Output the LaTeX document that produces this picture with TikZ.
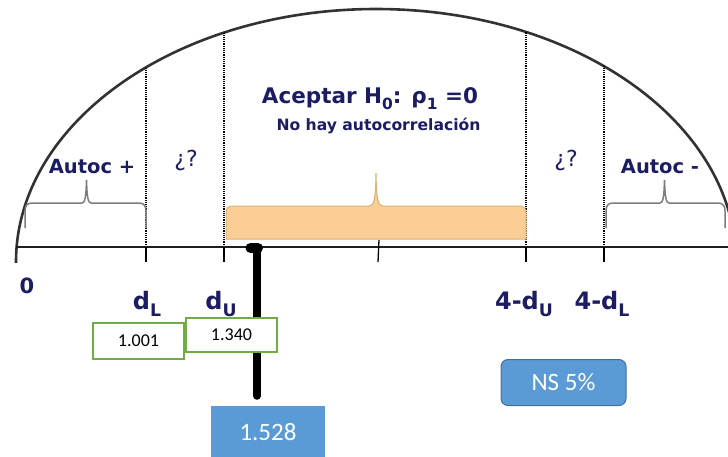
\documentclass[tikz,border=0pt]{standalone}
\usepackage{fontspec}
\setmainfont{DejaVu Sans}[BoldFont={DejaVu Sans Bold}]
\newfontfamily\numfont{Carlito}
\definecolor{navy}{RGB}{28,28,98}
\definecolor{braceg}{RGB}{125,125,125}
\definecolor{orfill}{RGB}{250,206,148}
\definecolor{ordraw}{RGB}{220,178,120}
\definecolor{boxgreen}{RGB}{112,173,71}
\definecolor{boxblue}{RGB}{91,155,213}
\definecolor{boxblueedge}{RGB}{65,113,156}
\newcommand\lsub[1]{\raisebox{-0.3em}{\scalebox{0.72}{#1}}}
\begin{document}
\begin{tikzpicture}[x=1pt,y=-1pt,
  dome/.style={draw={rgb,255:red,50;green,50;blue,50},line width=2.6pt},
  dotline/.style={draw=black,line width=1.2pt,densely dotted},
  tickline/.style={draw=black,line width=1.3pt},
  axisline/.style={draw={rgb,255:red,30;green,30;blue,30},line width=1.6pt},
  bracepath/.style={draw=braceg,line width=1.5pt},
  lbl/.style={text=navy,inner sep=0pt,anchor=base,font=\fontsize{19.5}{20}\selectfont\bfseries},
  qlbl/.style={text=navy,inner sep=0pt,anchor=base,font=\fontsize{22}{22}\selectfont},
  axlbl/.style={text=navy,inner sep=0pt,anchor=base,font=\fontsize{24}{24}\selectfont\bfseries},
  valbox/.style={draw=boxgreen,line width=1.6pt,fill=white,font=\numfont\fontsize{18}{18}\selectfont,text=black,inner sep=0pt},
  bluebox/.style={fill=boxblue,text=white,font=\numfont\fontsize{25}{25}\selectfont,inner sep=0pt},
  marker/.style={draw=black,line width=7.5pt,line cap=round}
]
\useasboundingbox (0,0) rectangle (728,456);
\clip (0,0) rectangle (728,456);

% dome
\begin{scope}
  \clip (0,0) rectangle (728,262.5);
  \draw[dome] (376,262) ellipse [x radius=360pt, y radius=253pt];
\end{scope}

% axis points
\coordinate (b0) at (16,247);
\coordinate (bend) at (730,247);
\coordinate (pdL) at (146,247);
\coordinate (pdU) at (224,247);
\coordinate (pmid) at (378.5,247);
\coordinate (p4dU) at (526,247);
\coordinate (p4dL) at (604,247);

% dotted vertical lines inside the dome
\begin{scope}
  \clip (376,262) ellipse [x radius=360pt, y radius=253pt];
  \foreach \p in {pdL,pdU,p4dU,p4dL}
    \draw[dotline] (\p) -- ++(0,-250);
\end{scope}

% orange acceptance brace
\draw[fill=orfill,draw=ordraw,line width=1pt]
  (226,239) -- (226,213) .. controls (226,208) and (228,206) .. (233,206)
  -- (369,206) .. controls (374,206) and (375.5,200) .. (376,173)
  .. controls (376.5,200) and (378,206) .. (383,206)
  -- (519,206) .. controls (524,206) and (526,208) .. (526,213)
  -- (526,239) -- cycle;

% axis
\draw[axisline] (b0) -- (bend);
\foreach \p in {pdL,pdU,p4dU,p4dL}
  \draw[tickline] (\p) -- ++(0,15);
\draw[tickline] (pmid) ++(0.5,-7) -- ++(-1,22);

% gray braces
\draw[bracepath] (25,228) -- (25,211) .. controls (25,206) and (27,203) .. (32,203)
  -- (82,203) .. controls (85,203) and (86,197) .. (86.5,180)
  .. controls (87,197) and (88,203) .. (91,203)
  -- (139,203) .. controls (144,203) and (146,206) .. (146,211) -- (146,228);
\draw[bracepath] (606,228) -- (606,211) .. controls (606,206) and (608,203) .. (613,203)
  -- (660,203) .. controls (663,203) and (664,197) .. (664.5,180)
  .. controls (665,197) and (666,203) .. (669,203)
  -- (718,203) .. controls (723,203) and (725,206) .. (725,211) -- (725,228);

% region labels
\node[lbl] (autp) at (92,173) {Autoc +};
\node[qlbl] (q1) at (186,166) {¿?};
\node[qlbl] (q2) at (566,166) {¿?};
\node[lbl] (autm) at (660,173) {Autoc -};
\node[lbl,font=\fontsize{21.5}{22}\selectfont\bfseries] (acc) at (370,103) {Aceptar H\lsub{0}: ρ\lsub{1} =0};
\node[lbl,font=\fontsize{15.6}{16}\selectfont\bfseries] (noaut) at (378.5,130) {No hay autocorrelación};

% axis labels
\node[axlbl,font=\fontsize{21}{21}\selectfont\bfseries] (l0) at (27,293) {0};
\node[axlbl] (ldL) at (147,309) {d\lsub{L}};
\node[axlbl] (ldU) at (221,309) {d\lsub{U}};
\node[axlbl] (l4dU) at (524,309) {4-d\lsub{U}};
\node[axlbl] (l4dL) at (602,309) {4-d\lsub{L}};

% Durbin-Watson marker
\coordinate (dw) at (257,251);
\coordinate (dwend) at (257,396);
\draw[marker] (dw) -- (dwend);
\draw[draw=black,line width=10pt,line cap=round] (250.5,248) -- (258,248);

% value boxes
\node[valbox,minimum width=91pt,minimum height=36pt] (v1) at (138.5,341) {1.001};
\node[valbox,minimum width=91pt,minimum height=34pt] (v2) at (231.5,335) {1.340};
\node[bluebox,minimum width=114pt,minimum height=52pt] (dwval) at (268,432) {1.528};
\node[bluebox,draw=boxblueedge,line width=1pt,rounded corners=7pt,minimum width=125pt,minimum height=46pt] (ns) at (563.5,382.5) {NS 5\%};
\end{tikzpicture}
\end{document}
